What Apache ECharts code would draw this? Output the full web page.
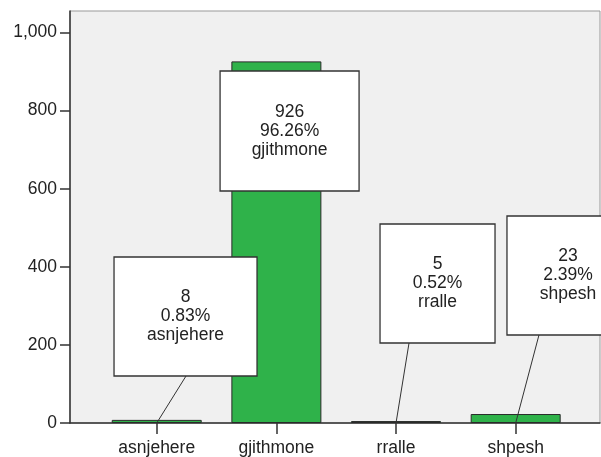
<!DOCTYPE html>
<html>
<head>
<meta charset="utf-8">
<script src="https://cdn.jsdelivr.net/npm/echarts@6/dist/echarts.min.js"></script>
<style>
  html, body { margin: 0; padding: 0; background: #fff; }
  #chart { width: 601px; height: 457px; }
</style>
</head>
<body>
<div id="chart"></div>
<script>
var categories = ["asnjehere", "gjithmone", "rralle", "shpesh"];
var counts = [8, 926, 5, 23];
var percents = [0.83, 96.26, 0.52, 2.39];
var yTicks = [0, 200, 400, 600, 800, 1000];

// callout boxes, pixel offsets from the bar's base centre
var boxLayout = [
    {dx: -42.7, dy: -166, w: 143, h: 119, lx: 29.3},
    {dx: -56.3, dy: -352, w: 139, h: 120, lx: 0},
    {dx: -16, dy: -199, w: 115, h: 119, lx: 13},
    {dx: -8.7, dy: -207, w: 122, h: 119, lx: 23.3}
];

var FONT = '"Liberation Sans", Arial, sans-serif';
var YMAX = 1055;

var chart = echarts.init(document.getElementById("chart"));

function renderCallout(params, api) {
    var i = api.value(0);
    var base = api.coord([i, 0]);
    var top = api.coord([i, api.value(1)]);
    var b = boxLayout[i];
    var x = base[0] + b.dx, y = base[1] + b.dy;
    var kids = [];
    if (y + b.h < top[1]) {
        kids.push({
            type: "line",
            shape: {x1: base[0] + b.lx, y1: y + b.h, x2: base[0], y2: base[1]},
            style: {stroke: "#333", lineWidth: 1}
        });
    }
    kids.push({
        type: "rect",
        shape: {x: x, y: y, width: b.w, height: b.h},
        style: {fill: "#fff", stroke: "#333", lineWidth: 1.3}
    });
    kids.push({
        type: "text",
        style: {
            x: x + b.w / 2, y: y + b.h / 2,
            text: counts[i] + "\n" + percents[i].toFixed(2) + "%\n" + categories[i],
            fill: "#222", fontSize: 17.5, fontFamily: FONT,
            align: "center", verticalAlign: "middle", lineHeight: 19
        }
    });
    return {type: "group", children: kids};
}

chart.setOption({
    animation: false,
    backgroundColor: "#fff",
    grid: [
        {left: 70, right: 1, top: 11, bottom: 34, show: true, backgroundColor: "#f0f0f0", borderColor: "#999", borderWidth: 1},
        {left: 96.9, right: 25.5, top: 11, bottom: 34}
    ],
    xAxis: [
        {
            gridIndex: 0, type: "value", min: 0, max: 1,
            axisLine: {show: true, lineStyle: {color: "#333", width: 1.5}},
            axisTick: {show: false}, axisLabel: {show: false}, splitLine: {show: false}
        },
        {
            gridIndex: 1, type: "category", data: categories,
            axisLine: {show: false},
            axisTick: {show: true, alignWithLabel: true, length: 11, lineStyle: {color: "#333", width: 1.5}},
            axisLabel: {color: "#222", fontSize: 17.5, fontFamily: FONT, margin: 16}
        }
    ],
    yAxis: [
        {
            gridIndex: 0, type: "value", min: 0, max: YMAX,
            axisLine: {show: true, lineStyle: {color: "#333", width: 1.5}},
            axisTick: {show: true, length: 10, customValues: yTicks, lineStyle: {color: "#333", width: 1.5}},
            axisLabel: {
                color: "#222", fontSize: 17.5, fontFamily: FONT, margin: 13, customValues: yTicks,
                formatter: function (v) { return v.toLocaleString("en-US"); }
            },
            splitLine: {show: false}
        },
        {gridIndex: 1, type: "value", min: 0, max: YMAX, show: false}
    ],
    series: [
        {
            type: "bar", xAxisIndex: 1, yAxisIndex: 1,
            data: counts, barWidth: 90,
            itemStyle: {color: "#2fb24a", borderColor: "#2a2a2a", borderWidth: 1},
            z: 3
        },
        {
            type: "custom", xAxisIndex: 1, yAxisIndex: 1, clip: false, z: 5,
            data: categories.map(function (c, i) { return [i, counts[i]]; }),
            renderItem: renderCallout
        }
    ]
});
</script>
</body>
</html>
